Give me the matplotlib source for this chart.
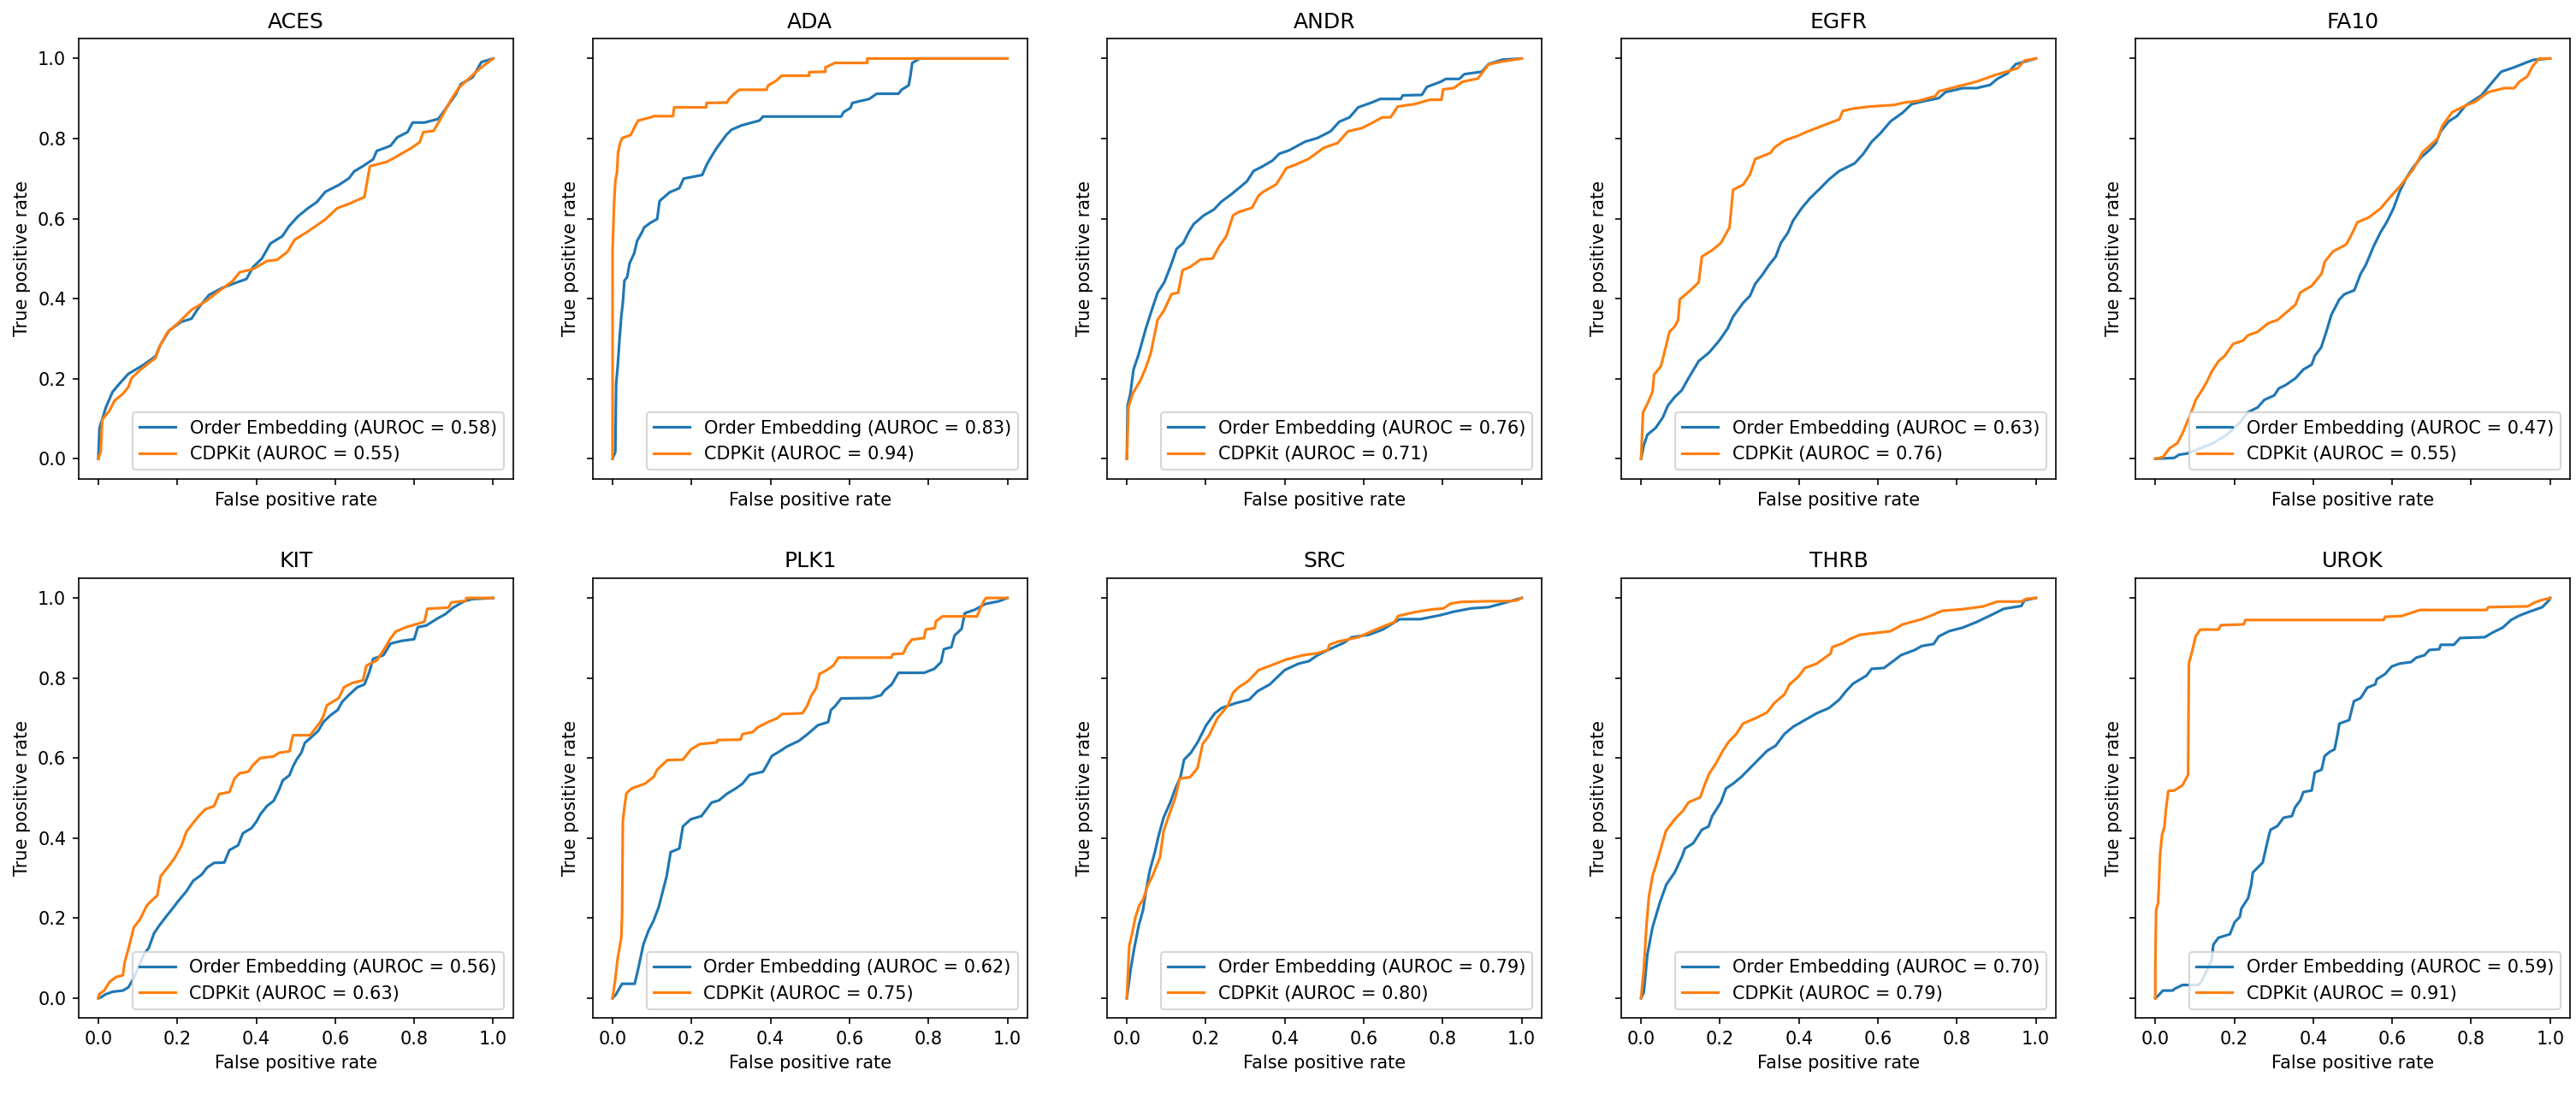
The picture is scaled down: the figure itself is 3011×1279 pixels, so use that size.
import matplotlib
matplotlib.use("Agg")
import matplotlib.pyplot as plt

targets = ["ACES", "ADA", "ANDR", "EGFR", "FA10", "KIT", "PLK1", "SRC", "THRB", "UROK"]
auroc_oe = [0.58, 0.83, 0.76, 0.63, 0.47, 0.56, 0.62, 0.79, 0.70, 0.59]
auroc_cdp = [0.55, 0.94, 0.71, 0.76, 0.55, 0.63, 0.75, 0.80, 0.79, 0.91]

# ---------------- ACES ----------------
aces_oe_fpr = [0, 0.003, 0.019, 0.036, 0.054, 0.076, 0.115, 0.145, 0.158, 0.180, 0.210, 0.236, 0.253, 0.280, 0.314, 0.349, 0.375, 0.392, 0.414, 0.436, 0.466, 0.483, 0.505, 0.531, 0.553, 0.575, 0.609, 0.635, 0.648, 0.670, 0.696, 0.705, 0.740, 0.757, 0.783, 0.796, 0.826, 0.861, 0.878, 0.905, 0.918, 0.948, 0.970, 1]
aces_oe_tpr = [0, 0.077, 0.128, 0.167, 0.188, 0.212, 0.235, 0.256, 0.286, 0.321, 0.342, 0.350, 0.376, 0.409, 0.427, 0.440, 0.449, 0.479, 0.500, 0.538, 0.556, 0.581, 0.605, 0.626, 0.641, 0.667, 0.684, 0.701, 0.718, 0.731, 0.748, 0.769, 0.782, 0.803, 0.816, 0.840, 0.840, 0.849, 0.872, 0.910, 0.936, 0.953, 0.991, 1]
aces_cdp_fpr = [0, 0.006, 0.010, 0.028, 0.041, 0.062, 0.076, 0.084, 0.106, 0.145, 0.154, 0.175, 0.201, 0.236, 0.271, 0.306, 0.340, 0.358, 0.392, 0.427, 0.453, 0.479, 0.497, 0.531, 0.575, 0.605, 0.635, 0.674, 0.683, 0.688, 0.731, 0.757, 0.792, 0.814, 0.823, 0.849, 0.870, 0.891, 0.913, 0.965, 1]
aces_cdp_tpr = [0, 0.017, 0.098, 0.120, 0.145, 0.162, 0.179, 0.201, 0.222, 0.252, 0.278, 0.316, 0.338, 0.372, 0.393, 0.419, 0.444, 0.466, 0.474, 0.494, 0.497, 0.517, 0.547, 0.568, 0.598, 0.626, 0.637, 0.654, 0.705, 0.731, 0.742, 0.756, 0.776, 0.791, 0.816, 0.819, 0.855, 0.893, 0.927, 0.974, 1]

# ---------------- ADA ----------------
ada_oe_fpr = [0, 0.007, 0.009, 0.013, 0.017, 0.022, 0.026, 0.030, 0.037, 0.043, 0.055, 0.062, 0.074, 0.080, 0.095, 0.113, 0.119, 0.145, 0.169, 0.180, 0.227, 0.238, 0.249, 0.264, 0.273, 0.288, 0.301, 0.327, 0.372, 0.381, 0.579, 0.585, 0.603, 0.607, 0.650, 0.669, 0.724, 0.732, 0.750, 0.754, 0.759, 0.778, 1]
ada_oe_tpr = [0, 0.017, 0.188, 0.231, 0.291, 0.355, 0.390, 0.445, 0.454, 0.488, 0.514, 0.544, 0.565, 0.578, 0.589, 0.599, 0.644, 0.666, 0.676, 0.700, 0.709, 0.734, 0.753, 0.777, 0.789, 0.809, 0.822, 0.833, 0.845, 0.855, 0.855, 0.866, 0.877, 0.889, 0.899, 0.912, 0.912, 0.922, 0.933, 0.955, 0.989, 1.0, 1]
ada_cdp_fpr = [0, 0, 0.004, 0.007, 0.011, 0.014, 0.019, 0.024, 0.046, 0.059, 0.065, 0.100, 0.104, 0.153, 0.156, 0.237, 0.238, 0.290, 0.295, 0.308, 0.321, 0.390, 0.394, 0.414, 0.428, 0.498, 0.498, 0.539, 0.539, 0.563, 0.645, 0.645, 1]
ada_cdp_tpr = [0, 0.522, 0.642, 0.694, 0.715, 0.766, 0.788, 0.801, 0.809, 0.835, 0.845, 0.854, 0.856, 0.856, 0.878, 0.878, 0.889, 0.890, 0.899, 0.912, 0.922, 0.922, 0.933, 0.944, 0.957, 0.957, 0.966, 0.967, 0.978, 0.989, 0.989, 1.0, 1]

# ---------------- ANDR ----------------
andr_oe_fpr = [0, 0.002, 0.009, 0.017, 0.030, 0.048, 0.065, 0.078, 0.095, 0.110, 0.126, 0.143, 0.156, 0.169, 0.195, 0.221, 0.239, 0.265, 0.286, 0.304, 0.321, 0.343, 0.369, 0.386, 0.412, 0.451, 0.482, 0.516, 0.538, 0.564, 0.586, 0.620, 0.642, 0.694, 0.699, 0.747, 0.760, 0.795, 0.808, 0.842, 0.855, 0.899, 0.916, 0.951, 1]
andr_oe_tpr = [0, 0.133, 0.163, 0.223, 0.261, 0.325, 0.377, 0.415, 0.441, 0.479, 0.524, 0.539, 0.565, 0.586, 0.608, 0.623, 0.642, 0.661, 0.678, 0.693, 0.719, 0.730, 0.745, 0.762, 0.771, 0.792, 0.801, 0.818, 0.842, 0.853, 0.878, 0.890, 0.899, 0.899, 0.908, 0.909, 0.929, 0.942, 0.949, 0.949, 0.961, 0.967, 0.986, 0.997, 1]
andr_cdp_fpr = [0, 0.004, 0.015, 0.035, 0.048, 0.061, 0.069, 0.078, 0.095, 0.113, 0.130, 0.141, 0.160, 0.187, 0.217, 0.234, 0.252, 0.269, 0.282, 0.317, 0.334, 0.347, 0.378, 0.404, 0.430, 0.460, 0.499, 0.534, 0.560, 0.595, 0.621, 0.647, 0.668, 0.686, 0.729, 0.768, 0.797, 0.801, 0.828, 0.850, 0.889, 0.902, 0.916, 0.941, 1]
andr_cdp_tpr = [0, 0.128, 0.163, 0.197, 0.227, 0.265, 0.304, 0.347, 0.372, 0.411, 0.415, 0.471, 0.479, 0.498, 0.500, 0.531, 0.556, 0.608, 0.616, 0.627, 0.658, 0.668, 0.685, 0.726, 0.736, 0.749, 0.777, 0.789, 0.818, 0.826, 0.839, 0.853, 0.853, 0.880, 0.886, 0.897, 0.897, 0.923, 0.926, 0.942, 0.950, 0.967, 0.985, 0.991, 1]

# ---------------- EGFR ----------------
egfr_oe_fpr = [0, 0.007, 0.016, 0.037, 0.055, 0.068, 0.085, 0.103, 0.120, 0.146, 0.172, 0.198, 0.219, 0.233, 0.259, 0.276, 0.289, 0.306, 0.324, 0.341, 0.354, 0.372, 0.385, 0.406, 0.428, 0.450, 0.476, 0.502, 0.541, 0.563, 0.584, 0.606, 0.632, 0.663, 0.685, 0.719, 0.754, 0.771, 0.815, 0.849, 0.884, 0.902, 0.928, 0.949, 1]
egfr_oe_tpr = [0, 0.034, 0.060, 0.077, 0.103, 0.133, 0.154, 0.171, 0.201, 0.244, 0.265, 0.295, 0.325, 0.355, 0.390, 0.407, 0.437, 0.458, 0.484, 0.505, 0.539, 0.565, 0.595, 0.625, 0.651, 0.672, 0.698, 0.719, 0.738, 0.762, 0.792, 0.813, 0.843, 0.865, 0.886, 0.894, 0.901, 0.916, 0.926, 0.926, 0.934, 0.949, 0.963, 0.986, 1]
egfr_cdp_fpr = [0, 0.005, 0.016, 0.029, 0.033, 0.050, 0.059, 0.072, 0.085, 0.094, 0.098, 0.124, 0.146, 0.154, 0.180, 0.202, 0.224, 0.233, 0.259, 0.276, 0.289, 0.328, 0.337, 0.363, 0.398, 0.415, 0.459, 0.502, 0.511, 0.537, 0.580, 0.641, 0.667, 0.702, 0.745, 0.754, 0.797, 0.849, 0.897, 0.932, 0.954, 0.971, 1]
egfr_cdp_tpr = [0, 0.116, 0.137, 0.167, 0.210, 0.231, 0.265, 0.317, 0.330, 0.347, 0.398, 0.420, 0.441, 0.505, 0.521, 0.539, 0.578, 0.672, 0.685, 0.711, 0.749, 0.764, 0.777, 0.795, 0.807, 0.815, 0.832, 0.848, 0.869, 0.875, 0.880, 0.884, 0.890, 0.894, 0.906, 0.918, 0.929, 0.942, 0.959, 0.969, 0.976, 0.995, 1]

# ---------------- FA10 ----------------
fa10_oe_fpr = [0, 0.048, 0.060, 0.081, 0.114, 0.147, 0.181, 0.214, 0.234, 0.259, 0.276, 0.301, 0.313, 0.330, 0.355, 0.375, 0.396, 0.404, 0.420, 0.433, 0.446, 0.466, 0.479, 0.504, 0.520, 0.533, 0.553, 0.570, 0.586, 0.603, 0.619, 0.636, 0.653, 0.673, 0.694, 0.710, 0.723, 0.743, 0.764, 0.785, 0.826, 0.851, 0.876, 0.909, 0.942, 0.959, 1]
fa10_oe_tpr = [0, 0.002, 0.010, 0.013, 0.026, 0.039, 0.060, 0.090, 0.116, 0.128, 0.147, 0.158, 0.176, 0.184, 0.201, 0.223, 0.235, 0.257, 0.278, 0.317, 0.360, 0.398, 0.411, 0.421, 0.462, 0.484, 0.531, 0.565, 0.591, 0.625, 0.668, 0.702, 0.728, 0.753, 0.771, 0.788, 0.818, 0.843, 0.856, 0.882, 0.908, 0.938, 0.967, 0.978, 0.991, 0.997, 1]
fa10_cdp_fpr = [0, 0.019, 0.036, 0.056, 0.069, 0.089, 0.102, 0.118, 0.131, 0.143, 0.160, 0.176, 0.197, 0.222, 0.234, 0.259, 0.285, 0.310, 0.330, 0.355, 0.367, 0.396, 0.421, 0.429, 0.450, 0.483, 0.495, 0.512, 0.541, 0.570, 0.603, 0.619, 0.653, 0.677, 0.715, 0.727, 0.752, 0.785, 0.810, 0.843, 0.884, 0.909, 0.922, 0.942, 0.955, 0.972, 1]
fa10_cdp_tpr = [0, 0.004, 0.026, 0.039, 0.064, 0.111, 0.146, 0.171, 0.193, 0.218, 0.244, 0.257, 0.287, 0.295, 0.308, 0.317, 0.338, 0.347, 0.364, 0.385, 0.415, 0.432, 0.462, 0.492, 0.518, 0.535, 0.556, 0.591, 0.603, 0.625, 0.663, 0.680, 0.723, 0.766, 0.800, 0.832, 0.866, 0.882, 0.892, 0.916, 0.926, 0.926, 0.942, 0.955, 0.980, 1.0, 1]

# ---------------- KIT ----------------
kit_oe_fpr = [0, 0.006, 0.019, 0.036, 0.062, 0.076, 0.089, 0.102, 0.115, 0.128, 0.141, 0.154, 0.171, 0.188, 0.201, 0.223, 0.240, 0.262, 0.275, 0.293, 0.319, 0.332, 0.354, 0.366, 0.388, 0.401, 0.410, 0.427, 0.444, 0.457, 0.467, 0.484, 0.493, 0.502, 0.514, 0.523, 0.536, 0.557, 0.570, 0.588, 0.606, 0.618, 0.635, 0.656, 0.674, 0.686, 0.696, 0.722, 0.740, 0.769, 0.800, 0.809, 0.830, 0.861, 0.878, 0.899, 0.925, 0.946, 1]
kit_oe_tpr = [0, 0.002, 0.010, 0.016, 0.019, 0.027, 0.049, 0.079, 0.109, 0.126, 0.162, 0.181, 0.203, 0.224, 0.241, 0.267, 0.293, 0.309, 0.326, 0.338, 0.339, 0.370, 0.382, 0.412, 0.425, 0.442, 0.459, 0.480, 0.493, 0.519, 0.544, 0.557, 0.579, 0.596, 0.613, 0.638, 0.649, 0.668, 0.690, 0.707, 0.720, 0.741, 0.758, 0.777, 0.784, 0.814, 0.848, 0.857, 0.886, 0.893, 0.897, 0.927, 0.931, 0.950, 0.959, 0.976, 0.991, 0.997, 1]
kit_cdp_fpr = [0, 0.002, 0.015, 0.028, 0.045, 0.062, 0.067, 0.078, 0.090, 0.106, 0.123, 0.136, 0.149, 0.158, 0.175, 0.193, 0.210, 0.223, 0.240, 0.258, 0.271, 0.293, 0.306, 0.332, 0.345, 0.358, 0.380, 0.392, 0.410, 0.444, 0.457, 0.484, 0.493, 0.536, 0.545, 0.562, 0.570, 0.579, 0.609, 0.622, 0.644, 0.670, 0.679, 0.705, 0.722, 0.740, 0.753, 0.779, 0.800, 0.826, 0.833, 0.887, 0.894, 0.931, 0.932, 1]
kit_cdp_tpr = [0, 0.010, 0.019, 0.040, 0.053, 0.057, 0.091, 0.130, 0.177, 0.198, 0.232, 0.245, 0.256, 0.305, 0.326, 0.350, 0.380, 0.416, 0.438, 0.459, 0.472, 0.480, 0.510, 0.515, 0.549, 0.562, 0.566, 0.583, 0.600, 0.604, 0.613, 0.617, 0.657, 0.657, 0.668, 0.690, 0.705, 0.732, 0.750, 0.777, 0.788, 0.794, 0.831, 0.844, 0.869, 0.899, 0.916, 0.927, 0.933, 0.941, 0.973, 0.976, 0.989, 0.993, 1.0, 1]

# ---------------- PLK1 ----------------
plk1_oe_fpr = [0, 0.009, 0.024, 0.056, 0.065, 0.078, 0.091, 0.104, 0.117, 0.126, 0.137, 0.147, 0.169, 0.178, 0.198, 0.225, 0.251, 0.269, 0.290, 0.312, 0.329, 0.347, 0.381, 0.394, 0.403, 0.425, 0.442, 0.472, 0.494, 0.520, 0.546, 0.553, 0.563, 0.579, 0.654, 0.680, 0.689, 0.707, 0.724, 0.789, 0.815, 0.832, 0.839, 0.858, 0.866, 0.884, 0.892, 0.918, 0.944, 0.979, 1]
plk1_oe_tpr = [0, 0.010, 0.036, 0.036, 0.074, 0.134, 0.169, 0.194, 0.228, 0.263, 0.305, 0.365, 0.374, 0.429, 0.447, 0.455, 0.489, 0.494, 0.511, 0.524, 0.536, 0.558, 0.566, 0.588, 0.605, 0.618, 0.629, 0.643, 0.660, 0.682, 0.690, 0.720, 0.729, 0.749, 0.750, 0.757, 0.769, 0.784, 0.813, 0.813, 0.823, 0.840, 0.872, 0.877, 0.906, 0.923, 0.962, 0.971, 0.985, 0.992, 1]
plk1_cdp_fpr = [0, 0.007, 0.013, 0.022, 0.024, 0.026, 0.030, 0.035, 0.048, 0.082, 0.104, 0.113, 0.139, 0.178, 0.199, 0.221, 0.264, 0.266, 0.324, 0.329, 0.355, 0.368, 0.394, 0.416, 0.429, 0.481, 0.492, 0.503, 0.516, 0.524, 0.541, 0.559, 0.572, 0.706, 0.710, 0.736, 0.745, 0.758, 0.789, 0.793, 0.816, 0.819, 0.836, 0.923, 0.927, 0.940, 0.946, 1]
plk1_cdp_tpr = [0, 0.049, 0.100, 0.151, 0.207, 0.442, 0.476, 0.512, 0.524, 0.536, 0.553, 0.571, 0.595, 0.596, 0.622, 0.635, 0.639, 0.645, 0.646, 0.660, 0.665, 0.677, 0.690, 0.699, 0.710, 0.712, 0.729, 0.755, 0.776, 0.810, 0.819, 0.831, 0.851, 0.851, 0.860, 0.861, 0.880, 0.896, 0.900, 0.921, 0.925, 0.942, 0.954, 0.954, 0.964, 0.992, 1.0, 1]

# ---------------- SRC ----------------
src_oe_fpr = [0, 0.010, 0.019, 0.030, 0.041, 0.049, 0.058, 0.071, 0.080, 0.093, 0.110, 0.123, 0.136, 0.145, 0.162, 0.179, 0.201, 0.223, 0.240, 0.275, 0.310, 0.331, 0.362, 0.400, 0.435, 0.461, 0.483, 0.518, 0.548, 0.570, 0.613, 0.648, 0.691, 0.743, 0.794, 0.829, 0.872, 0.916, 0.950, 1]
src_oe_tpr = [0, 0.074, 0.126, 0.181, 0.220, 0.271, 0.318, 0.365, 0.404, 0.451, 0.489, 0.524, 0.553, 0.596, 0.613, 0.639, 0.682, 0.712, 0.725, 0.737, 0.746, 0.767, 0.784, 0.820, 0.836, 0.842, 0.857, 0.874, 0.887, 0.902, 0.908, 0.921, 0.947, 0.947, 0.957, 0.966, 0.974, 0.977, 0.986, 1]
src_cdp_fpr = [0, 0.006, 0.013, 0.022, 0.032, 0.041, 0.054, 0.065, 0.084, 0.093, 0.106, 0.123, 0.134, 0.160, 0.179, 0.192, 0.208, 0.229, 0.256, 0.269, 0.282, 0.308, 0.334, 0.364, 0.403, 0.446, 0.483, 0.509, 0.513, 0.535, 0.587, 0.630, 0.678, 0.687, 0.726, 0.769, 0.802, 0.820, 0.846, 0.916, 0.968, 0.988, 1]
src_cdp_tpr = [0, 0.130, 0.160, 0.203, 0.233, 0.246, 0.284, 0.305, 0.352, 0.417, 0.455, 0.502, 0.549, 0.552, 0.575, 0.635, 0.656, 0.699, 0.731, 0.763, 0.776, 0.793, 0.820, 0.831, 0.846, 0.857, 0.862, 0.870, 0.883, 0.891, 0.902, 0.921, 0.940, 0.955, 0.964, 0.971, 0.974, 0.986, 0.990, 0.992, 0.992, 0.994, 1]

# ---------------- THRB ----------------
thrb_oe_fpr = [0, 0.007, 0.016, 0.029, 0.047, 0.064, 0.085, 0.103, 0.111, 0.132, 0.154, 0.171, 0.180, 0.202, 0.215, 0.233, 0.254, 0.272, 0.293, 0.319, 0.341, 0.363, 0.385, 0.415, 0.445, 0.476, 0.502, 0.519, 0.537, 0.571, 0.584, 0.615, 0.641, 0.658, 0.693, 0.711, 0.741, 0.754, 0.780, 0.815, 0.850, 0.884, 0.919, 0.963, 0.971, 1]
thrb_oe_tpr = [0, 0.015, 0.109, 0.177, 0.237, 0.284, 0.314, 0.352, 0.374, 0.387, 0.421, 0.429, 0.455, 0.489, 0.524, 0.536, 0.553, 0.571, 0.592, 0.618, 0.631, 0.660, 0.678, 0.695, 0.712, 0.725, 0.746, 0.767, 0.786, 0.806, 0.823, 0.825, 0.844, 0.857, 0.870, 0.880, 0.885, 0.904, 0.917, 0.926, 0.940, 0.956, 0.973, 0.980, 0.994, 1]
thrb_cdp_fpr = [0, 0.007, 0.014, 0.020, 0.029, 0.040, 0.050, 0.063, 0.085, 0.106, 0.120, 0.150, 0.159, 0.172, 0.189, 0.207, 0.222, 0.241, 0.258, 0.293, 0.319, 0.337, 0.363, 0.376, 0.398, 0.415, 0.445, 0.480, 0.484, 0.511, 0.528, 0.554, 0.589, 0.632, 0.663, 0.711, 0.737, 0.763, 0.815, 0.867, 0.902, 0.963, 0.976, 1]
thrb_cdp_tpr = [0, 0.074, 0.186, 0.254, 0.305, 0.340, 0.374, 0.418, 0.447, 0.468, 0.489, 0.502, 0.528, 0.560, 0.586, 0.618, 0.641, 0.660, 0.686, 0.701, 0.714, 0.737, 0.759, 0.784, 0.803, 0.825, 0.836, 0.861, 0.877, 0.887, 0.897, 0.908, 0.912, 0.917, 0.934, 0.947, 0.957, 0.968, 0.972, 0.979, 0.991, 0.991, 0.998, 1]

# ---------------- UROK ----------------
urok_oe_fpr = [0, 0.007, 0.019, 0.044, 0.048, 0.069, 0.110, 0.118, 0.131, 0.143, 0.147, 0.160, 0.189, 0.201, 0.214, 0.218, 0.235, 0.243, 0.247, 0.264, 0.272, 0.280, 0.288, 0.292, 0.309, 0.325, 0.346, 0.354, 0.367, 0.375, 0.396, 0.404, 0.421, 0.429, 0.441, 0.454, 0.462, 0.466, 0.491, 0.503, 0.520, 0.537, 0.557, 0.561, 0.582, 0.599, 0.619, 0.648, 0.661, 0.682, 0.694, 0.719, 0.723, 0.756, 0.772, 0.834, 0.855, 0.880, 0.901, 0.922, 0.943, 0.980, 0.997, 1]
urok_oe_tpr = [0, 0.006, 0.019, 0.019, 0.023, 0.033, 0.033, 0.044, 0.070, 0.096, 0.134, 0.151, 0.160, 0.190, 0.203, 0.224, 0.250, 0.284, 0.314, 0.331, 0.339, 0.374, 0.408, 0.421, 0.430, 0.451, 0.455, 0.477, 0.494, 0.515, 0.519, 0.564, 0.571, 0.605, 0.615, 0.622, 0.661, 0.686, 0.695, 0.742, 0.750, 0.776, 0.784, 0.797, 0.810, 0.829, 0.836, 0.840, 0.851, 0.857, 0.870, 0.872, 0.883, 0.883, 0.900, 0.902, 0.914, 0.926, 0.945, 0.956, 0.964, 0.977, 0.994, 1]
urok_cdp_fpr = [0, 0, 0.002, 0.007, 0.009, 0.012, 0.017, 0.023, 0.027, 0.033, 0.048, 0.069, 0.080, 0.083, 0.085, 0.094, 0.102, 0.114, 0.160, 0.166, 0.224, 0.228, 0.578, 0.582, 0.624, 0.670, 0.839, 0.843, 0.943, 0.959, 0.976, 1]
urok_cdp_tpr = [0, 0.074, 0.220, 0.237, 0.280, 0.357, 0.408, 0.427, 0.472, 0.518, 0.519, 0.532, 0.553, 0.558, 0.836, 0.870, 0.904, 0.921, 0.921, 0.932, 0.934, 0.945, 0.945, 0.953, 0.955, 0.970, 0.970, 0.977, 0.979, 0.988, 0.994, 1]

oe_fpr = [aces_oe_fpr, ada_oe_fpr, andr_oe_fpr, egfr_oe_fpr, fa10_oe_fpr,
          kit_oe_fpr, plk1_oe_fpr, src_oe_fpr, thrb_oe_fpr, urok_oe_fpr]
oe_tpr = [aces_oe_tpr, ada_oe_tpr, andr_oe_tpr, egfr_oe_tpr, fa10_oe_tpr,
          kit_oe_tpr, plk1_oe_tpr, src_oe_tpr, thrb_oe_tpr, urok_oe_tpr]
cdp_fpr = [aces_cdp_fpr, ada_cdp_fpr, andr_cdp_fpr, egfr_cdp_fpr, fa10_cdp_fpr,
           kit_cdp_fpr, plk1_cdp_fpr, src_cdp_fpr, thrb_cdp_fpr, urok_cdp_fpr]
cdp_tpr = [aces_cdp_tpr, ada_cdp_tpr, andr_cdp_tpr, egfr_cdp_tpr, fa10_cdp_tpr,
           kit_cdp_tpr, plk1_cdp_tpr, src_cdp_tpr, thrb_cdp_tpr, urok_cdp_tpr]

DPI = 150
fig, axes = plt.subplots(2, 5, figsize=(3012 / DPI, 1279 / DPI), dpi=DPI,
                         sharex=True, sharey=True)
fig.subplots_adjust(left=0.0305, right=0.9973, top=0.9648, bottom=0.0693,
                    wspace=0.184, hspace=0.2254)

for i, ax in enumerate(axes.flat):
    ax.plot(oe_fpr[i], oe_tpr[i], color="#1f77b4", lw=1.5,
            label=f"Order Embedding (AUROC = {auroc_oe[i]:.2f})")
    ax.plot(cdp_fpr[i], cdp_tpr[i], color="#ff7f0e", lw=1.5,
            label=f"CDPKit (AUROC = {auroc_cdp[i]:.2f})")
    ax.set_title(targets[i])
    ax.set_xlabel("False positive rate")
    ax.set_ylabel("True positive rate")
    ax.legend(loc="lower right")
    ax.tick_params(labelleft=(i % 5 == 0), labelbottom=(i >= 5))

fig.savefig("out.png", dpi=DPI)
